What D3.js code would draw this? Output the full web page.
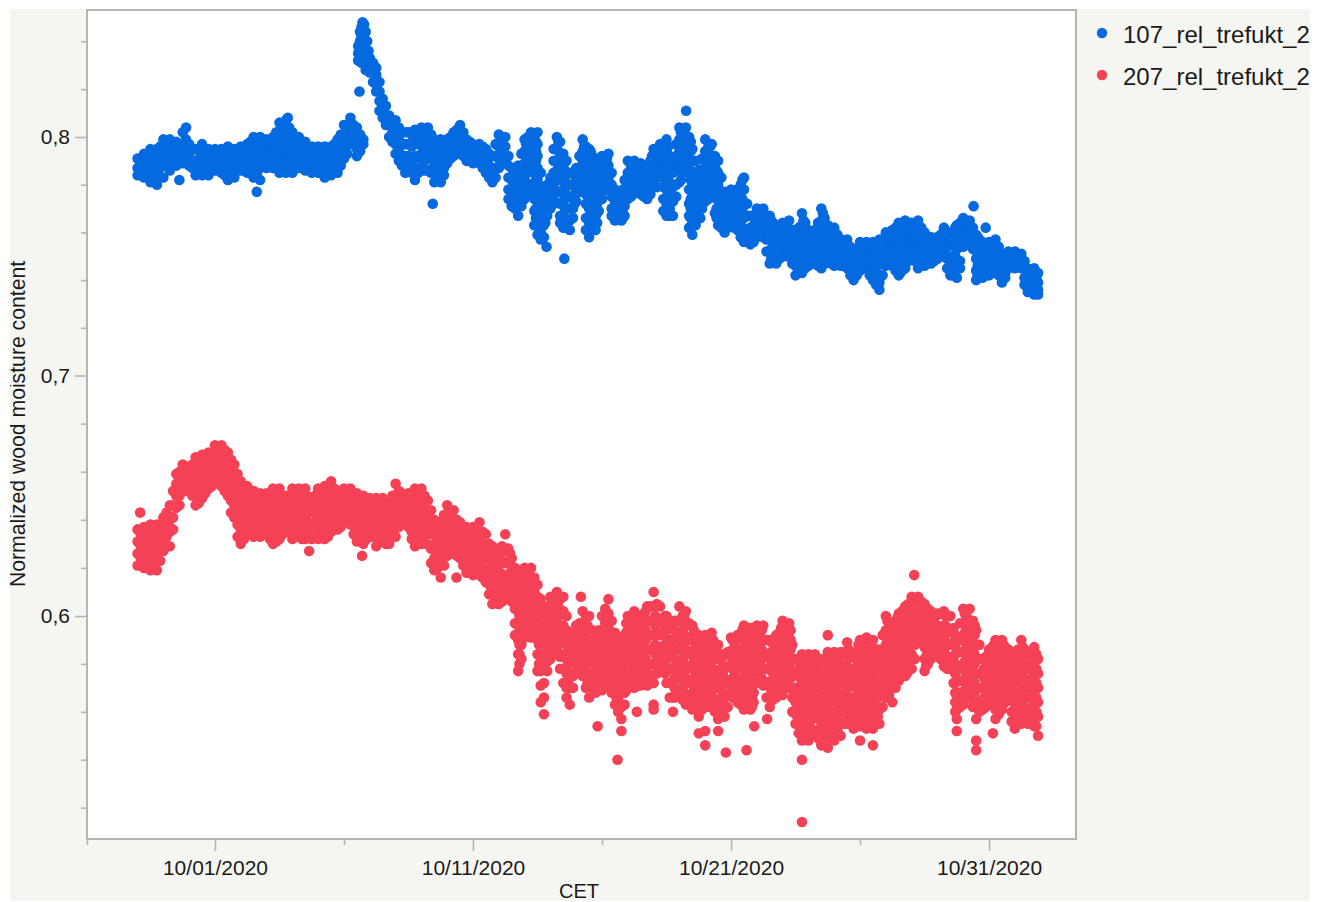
<!DOCTYPE html>
<html>
<head>
<meta charset="utf-8">
<script src="https://cdn.jsdelivr.net/npm/d3@7"></script>
<style>
html,body{margin:0;padding:0;background:#fff;}
svg{display:block;}
text{font-family:"Liberation Sans",Arial,sans-serif;fill:#1a1a1a;}
</style>
</head>
<body>
<div id="chart"></div>
<script>
// Each row: day offset from 10/01/2020, then moisture readings in thousandths.
const series107 = [
[-3,791,787,784],[-2.75,793,788,783],[-2.5,795,790,785,781],[-2.25,795,791,786,780],[-2,799,794,789,783],
[-1.75,799,795,790,786],[-1.5,798,793,788],[-1.38,782],[-1.25,802,797,793,789],[-1.12,804],[-1,797,792,788],
[-.75,795,790,784],[-.5,797,792,788,784],[-.25,795,790,784],[0,795,790,786],[.25,795,790,785],[.5,796,791,787,782],
[.75,795,790,786,783],[1,796,791,786],[1.25,797,792,788,785],[1.5,800,795,790,786,783],[1.62,777],[1.75,800,795,791,787,782],
[2,799,794,790,787],[2.25,800,795,791,787],[2.5,806,801,796,791,785],[2.75,807,802,797,792,788,785],[2.82,808],[3,802,797,792,788,785],
[3.25,800,795,791,787],[3.5,798,794,790,786],[3.75,796,791,785],[4,796,791,785],[4.25,796,791,787,783],[4.5,796,791,787,784],
[4.75,799,794,790,785],[5,805,800,796,791],[5.25,808,803,797],[5.5,804,799,795,792],[5.6,819],[5.75,799,797],
[5.55,838,835,832],[5.68,846,842,838,834,831],[5.78,847,843,839,835,832],[5.9,840,836,832,828],[6,833,830,827],[6.25,829,826,822,819],[6.5,816,812,808],
[6.75,809,805,800],[7,807,802,797,793],[7.25,802,797,792,788],[7.5,802,797,792,786],[7.75,803,798,792,787,782],
[8,804,799,793,787],[8.25,804,799,793,786],[8.44,772],[8.5,799,794,788,781],[8.75,799,794,788,781],[9,799,794,789],[9.25,802,797,792],[9.5,805,800,794],
[9.75,799,795,790],[10,797,793,789],[10.25,797,792,789],[10.5,795,790,785],[10.75,792,787,781],[11,801,796,791,787],[11.25,800,796,792],
[11.5,787,782,777,771],[11.75,788,783,777,772,767],[12,799,794,789,784,779,774],[12.25,802,797,792,787],[12.5,802,797,792,787,782,776,770,765,759],
[12.75,778,773,768,763,758],[12.85,754],[13,783,778,774,770],[13.25,800,795,790,786,783],[13.5,793,788,783,778,773,767,762],[13.54,749],[13.75,785,780,775,770,765,761],
[14,787,782,777,773],[14.25,799,794,789,784,779],[14.5,795,790,785,780,775,770,764,758],[14.75,788,783,778,773,767,761],[15,792,787,782,777,774],
[15.25,793,788,783,780],[15.5,778,773,769,765],[15.75,775,770,765],[16,790,785,780,774],[16.25,790,785,780],[16.5,789,784,780,776],
[16.75,787,782,778,774],[17,795,790,785,779],[17.25,797,792,786],[17.5,799,794,789,784,778,772,767],[17.75,790,785,779,773,767],
[18,804,799,794,788,781],[18.25,804,799,793,787],[18.26,811],[18.5,795,790,785,780,775,770,765,759],[18.75,786,781,776,771,766],[19,799,794,789,784,778,773],
[19.25,797,792,786,780],[19.5,790,785,780,775,769,763],[19.75,777,772,766,760],[20,778,773,768,763],[20.25,778,772,767,761],
[20.5,783,778,772,766,761,756],[20.75,767,762,758,755],[21,770,765,761,758],[21.25,770,765,761,758],[21.5,767,762,757,752,747],[21.75,763,758,753,747],
[22,764,759,755,752],[22.25,765,760,755,750],[22.5,759,754,749,746,742],[22.75,768,763,758,753,748,743],[23,761,756,751,746],[23.25,761,756,751,747],
[23.5,770,765,760,755,750,745],[23.75,763,758,753,749],[24,762,757,752,746],[24.25,757,752,746],[24.5,757,752,748,745],[24.75,752,747,744,740],
[25,756,751,747,744],[25.25,756,751,748,745],[25.5,756,751,746,743,740],[25.75,757,752,747,742,739,736],[26,760,755,750,746],[26.25,761,756,751,746],
[26.5,764,759,754,749,745,742],[26.75,765,760,755,750,745],[27,764,759,754,750],[27.25,765,760,755,750,745],[27.5,760,755,750,746],[27.75,758,753,747],
[28,758,753,749],[28.25,762,757,753,750],[28.5,760,755,750,746,742],[28.75,763,758,753,748,741],[29,766,761,757,754],[29.25,765,760,756],[29.4,771],
[29.5,759,754,749,744,740],[29.75,756,751,746,741],[29.87,762],[30,756,751,746,742],[30.25,757,752,747,744],[30.5,751,747,743,739],[30.75,752,748,745],
[31,752,748,745],[31.25,751,747,745],[31.5,745,741,738,735],[31.75,745,741,737,734],[31.9,743,739,736,734],
[-2.875,790,786],[-2.625,792,788,785],[-2.375,793,788,783],[-2.125,796,792,787,783],[-1.875,797,792,788],[-1.625,796,791,788],[-1.375,795,791],[-1.125,799,795,791],
[-.875,795,790,787],[-.625,794,789,786],[-.375,794,789,786],[-.125,793,788],[.125,793,788],[.375,793,788,784],[.625,793,788,784],[.875,793,788],[1.125,794,789,786],
[1.375,798,793,788,785],[1.625,797,793,789,785],[1.875,797,792,788],[2.125,797,792,789],[2.375,802,797,793,788],[2.625,804,799,794,789,786],[2.875,804,799,795,790,787],
[3.125,800,796,791,787],[3.375,797,793,789],[3.625,795,791,787],[3.875,794,789,786],[4.125,794,789,785],[4.375,794,789,785],[4.625,797,793,789,786],[4.875,801,797,793,788],
[5.125,805,801,797,793],[5.375,805,801,797],[5.625,801,797,794],[5.62,844,840,836,832],[5.72,848,844,840,836,832],[5.84,844,840,836,832,828],[5.95,836,832,828],
[6.125,831,827,823],[6.375,823,819,815,811],[6.625,813,809,805],[6.875,806,802,798],[7.125,804,799,794,790],[7.375,802,797,792,788,785],[7.625,801,796,790,785],[7.875,802,797,791,785],
[8.125,802,796,790,786],[8.375,801,796,791,785],[8.625,797,791,785,782],[8.875,797,792,787,784],[9.125,800,795,791],[9.375,803,798,793],[9.625,802,797,792],[9.875,798,794,790],
[10.125,795,791],[10.375,796,792,787],[10.625,793,788,783],[10.875,797,792,787,783],[11.125,798,794,790],[11.375,792,788,783,778,774],[11.625,786,780,775,770],[11.875,793,787,781,776,771],
[12.125,800,795,790,785,780,776],[12.375,800,795,790,785,780,774,769,763],[12.625,785,779,774,769,764,760,757],[12.875,780,775,771,767],[13.125,795,790,785,780,775,772],
[13.375,798,792,787,782,777,772,767,764],[13.625,790,785,780,775,770,765,762],[13.875,785,780,775,770,766],[14.125,792,787,782,777],[14.375,796,791,786,781,776,772,766,761],
[14.625,792,787,782,777,772,767,762],[14.875,789,784,779,774,769],[15.125,791,786,781,778],[15.375,785,780,775,770,767],[15.625,775,770,767],[15.875,782,777,771,767],
[16.125,788,783,778,775],[16.375,787,783,778],[16.625,786,782,778,775],[16.875,790,785,781,776],[17.125,794,789,783,779],[17.375,796,790,785,779,774,769],[17.625,792,787,781,775,770,767],
[17.875,797,792,786,780,775],[18.125,802,796,790,785],[18.375,800,795,790,785,778,772,767,762],[18.625,790,785,779,774,769,763],[18.875,791,786,781,775,770],[19.125,796,790,784,778,774],
[19.375,792,787,781,775,768],[19.625,783,777,771,765,762],[19.875,775,770,765,762],[20.125,775,770,765,762],[20.375,780,775,769,763,758],[20.625,772,767,761,757],[20.875,767,763,759,756],
[21.125,768,763,760],[21.375,767,762,757,752],[21.625,764,759,754,749],[21.875,762,757,753,749],[22.125,763,758,753,750],[22.375,761,756,751,747],[22.625,762,757,752,747,744],
[22.875,764,759,754,749,745],[23.125,759,754,749,747],[23.375,764,759,754,749,746],[23.625,766,760,755,750,747],[23.875,760,755,750,747],[24.125,759,754,749,747],[24.375,755,750,746],
[24.625,754,749,745,742],[24.875,753,749,745,742],[25.125,754,750,746],[25.375,754,749,745,742],[25.625,755,750,745,741,738],[25.875,757,752,747,742],[26.125,758,753,748],
[26.375,762,757,752,747,744],[26.625,763,758,753,748,744],[26.875,762,757,752,748],[27.125,762,757,752,748],[27.375,762,757,752,748],[27.625,757,752,748],[27.875,756,751,748],
[28.125,759,755,751],[28.375,759,754,749,745],[28.625,760,755,750,745,742],[28.875,764,759,754,748,745],[29.125,764,759,755],[29.375,762,757,753],[29.625,757,752,747,742],
[29.875,754,749,744,742],[30.125,755,750,745,743],[30.375,754,750,746,742],[30.625,750,746,743,741],[30.875,750,747],[31.125,750,747,746],[31.375,748,745,741,738],[31.625,743,739,736],[31.83,741,737,735],
[11.6,782,778,774],[12.06,797,793,789,785,781,777],[12.44,798,794,790,786,782,778,774,770,766],[12.8,776,772,768,764],[13.31,798,794,790,786],[13.56,790,786,782,778,774,770,766],[13.94,784,780,776,772],
[14.31,796,792,788,784,780],[14.56,794,790,786,782,778,774,770,766,762],[14.81,788,784,780,776,772,768,764],[15.19,791,787,783],[15.81,778,774,770,766],[16.19,788,784,780,776],[16.56,787,783,779],
[16.94,792,788,784,780],[17.31,795,791,787,783],[17.56,796,792,788,784,780,776,772,768],[18.06,802,798,794,790,786,782],[18.44,798,794,790,786,782,778,774,770,766,762],[18.81,786,782,778,774,770,766],
[19.19,796,792,788,784,780],[19.44,790,786,782,778,774,770,766],[19.81,776,772,768,764],[20.19,776,772,768,764],[20.44,782,778,774,770,766,762,758],[21.56,765,761,757,753,749],[22.56,758,754,750,746],
[22.81,765,761,757,753,749,745],[23.56,768,764,760,756,752,748],[25.56,755,751,747,743],[26.56,763,759,755,751,747,743],[28.69,762,758,754,750,746],[29.56,758,754,750,746,742]
];
const series207 = [
[-3,636,631,626,621],[-2.9,643],[-2.75,637,632,628,624,620],[-2.5,638,633,628,623,619],[-2.25,638,634,629,624,619],[-2,641,636,631,627],[-1.75,646,640,635,629],
[-1.5,659,655,650,645],[-1.25,663,658,653],[-1,662,658,653],[-.75,666,661,656,651,646],[-.5,667,662,657,653,649],[-.25,668,663,658,653],[0,671,666,661,656],
[.25,671,666,660,654],[.5,668,662,656,650],[.75,663,658,652,646,641],[1,656,651,646,641,636,630],[1.25,654,649,644,639,634],[1.5,652,647,642,638,633],
[1.75,651,646,641,637,633],[2,651,646,641,635],[2.25,653,648,643,638,634,630],[2.5,653,648,643,638,632],[2.75,650,645,640,635],[3,653,648,643,637,632],
[3.25,653,648,642,638,633],[3.5,653,648,642,637,632],[3.65,627],[3.75,649,644,638,632],[4,653,648,642,637,632],[4.25,654,649,644,638,632],[4.5,656,651,646,641,635],
[4.75,652,647,642,636],[5,653,648,644,639],[5.25,653,648,643,638],[5.5,651,646,641,636,631],[5.7,625],[5.75,650,645,640,635,630],[6,649,645,640,636],
[6.25,649,644,639,634,629],[6.5,649,644,638,632],[6.75,647,642,636,630],[7,655,650,645,639,633],[7.25,651,646,642,639],[7.5,651,646,641,637],[7.75,653,648,642,636,629],
[8,653,648,642,636,630],[8.18,630],[8.25,648,643,637],[8.5,640,635,630,624,619],[8.75,639,634,628,622,616],[9,646,641,636,631,625],[9.25,644,638,632,626],[9.36,616],
[9.5,639,634,629,624],[9.75,637,632,627,622,618],[10,637,632,627,622,617],[10.25,639,634,628,622,617],[10.5,634,629,624,619,614],[10.75,629,624,618,612,605],
[11,628,622,616,610,605],[11.25,634,628,622,616,609],[11.5,624,618,612,606],[11.75,619,614,608,602,596,590,584,577],[12,620,615,609,603,597,591],[12.25,620,614,608,602,596,591],
[12.5,613,608,602,596,590,584,577],[12.75,602,596,590,584,578,572,566,559],[13,608,603,597,591,585,582],[13.25,610,604,598,592,585],[13.5,608,602,596,590,584,578,572],
[13.75,593,588,582,576,570,563],[14,596,590,584,577],[14.18,608],[14.25,602,596,590,584,578,575],[14.5,600,594,588,582,576,571,566],[14.75,591,585,579,573,568],
[14.83,554],[15,600,594,588,582,576,569],[15.25,607,601,595,589,583,577,571],[15.5,593,587,581,575,569,563],[15.6,540],[15.75,586,580,574,568,562,557,552],[16,600,594,588,582,576,570],
[16.25,602,596,590,584,578,570],[16.35,560],[16.5,600,594,588,582,576,571],[16.75,604,598,592,586,580,576,571],[17,610,604,598,592,586,580,572,563,561],[17.25,604,598,592,587,582],
[17.5,600,594,588,582,577,572],[17.75,596,590,584,578,572,566,560],[18,604,598,592,586,580,574,568],[18.25,602,596,590,584,578,572,563],[18.5,596,590,584,578,572,566,561],
[18.75,592,586,580,574,568,563,558,551],[19,592,586,580,574,568,562,552,546],[19.25,593,587,581,575,569,564],[19.5,588,582,576,570,564,557,552],[19.75,584,578,572,566,558],[19.8,543],
[20,591,585,579,573,568],[20.25,592,586,580,574,568,564],[20.5,596,590,584,578,572,566,561],[20.6,544],[20.75,595,589,583,577,571,566,561],[20.9,554],[21,596,590,584,578],
[21.25,596,590,584,578,571],[21.4,557],[21.5,590,584,578,572,566,562],[21.75,592,586,580,574,569,566],[22,598,592,586,580,574,567],[22.25,597,591,585,579,574,570],
[22.5,582,576,570,564,559,555],[22.75,584,578,572,566,560,554,548,540,514],[23,584,578,572,566,560,555,548],[23.25,584,578,572,566,560,552],[23.5,582,576,570,564,558,552,546],
[23.75,592,585,579,573,567,561,555,550,545],[24,585,579,573,567,560,554,548],[24.25,585,579,573,567,561,555,550],[24.5,589,583,577,571,565,559,555],[24.75,583,577,571,565,559,553],
[25,590,584,578,572,566,560,554,548],[25.25,591,585,579,573,567,561,557,553],[25.5,590,584,578,572,566,560,553,546],[25.75,585,579,573,567,561,555],[26,600,594,588,582,576,570,566],
[26.25,595,589,583,577,571,564],[26.5,601,595,589,583,577,573],[26.75,604,598,592,586,580,575],[27,608,602,596,590,584,578],[27.1,617],[27.25,608,602,596,590],
[27.5,605,599,593,587,582,577],[27.75,602,596,590,585,582],[28,601,596,592,588],[28.25,602,596,590,585,579],[28.5,600,594,588,582,578],[28.75,591,585,579,573,567,561,557,552],
[29,603,597,591,585,579,573,567,563],[29.25,603,597,591,585,579,573,566],[29.5,594,588,582,576,570,564,557,548,544],[29.75,582,576,570,565,561],[30,586,580,574,568,563],[30.15,551],
[30.25,590,584,578,572,566,561,557],[30.5,590,584,578,572,566,561],[30.75,586,580,574,570,566],[31,584,578,572,566,560,553],[31.25,590,584,578,572,566,560,555],
[31.5,584,578,572,566,560,555],[31.75,587,581,575,569,563,558,554],[31.9,582,576,570,564,558,550],
[-2.875,634,629,624,621],[-2.625,635,630,626,621],[-2.375,636,631,626,621],[-2.125,636,632,628,623],[-1.875,643,638,633,629],[-1.625,652,646,641,636],[-1.375,660,655,650,646],[-1.125,660,656,652],
[-.875,663,658,654,650],[-.625,664,659,654,650,647],[-.375,665,660,655,651],[-.125,668,663,658,654],[.125,669,664,658,655],[.375,669,663,657,652],[.625,665,660,654,648,643],[.875,659,654,649,643,638,633],
[1.125,652,647,642,637,632],[1.375,651,646,641,636],[1.625,649,644,640,635],[1.875,648,643,639,634],[2.125,650,645,640,636,632],[2.375,650,645,640,635,631],[2.625,648,643,637,634],[2.875,650,645,640,635],
[3.125,650,645,640,635],[3.375,650,645,640,635,632],[3.625,649,644,639,634],[3.875,650,645,639,634],[4.125,651,646,640,635],[4.375,652,647,642,636,633],[4.625,653,648,643,638],[4.875,650,645,641,637],
[5.125,650,645,641],[5.375,649,644,639,634],[5.625,648,643,638,633],[5.875,647,642,637,632],[6.125,647,642,637,633],[6.375,646,641,636,631],[6.625,646,641,635,630],[6.875,650,644,639,633],
[7.125,652,647,642,637],[7.375,649,644,640],[7.625,650,645,640,635,632],[7.875,651,645,639,633],[8.125,650,645,639,633],[8.375,644,639,634,628,622],[8.625,637,632,626,620],[8.875,642,637,632,626,621],
[9.125,643,638,633,628],[9.375,640,635,630,625],[9.625,636,631,626,621],[9.875,634,629,624,620],[10.125,636,631,625,620],[10.375,635,630,625,620,616],[10.625,630,625,620,614,609],[10.875,627,621,615,609,606],
[11.125,629,623,617,612,606],[11.375,628,622,616,610,607],[11.625,620,615,609,603,597,592],[11.875,618,612,606,600,594,588,582],[12.125,618,612,606,600,594,592],[12.375,616,610,604,598,592],
[12.625,607,601,595,589,583,577,571,564],[12.875,604,599,593,587,581,577],[13.125,607,601,595,589,585],[13.375,607,601,595,589,583,578],[13.625,600,594,588,582,576,570,566],[13.875,593,587,581,575,570],
[14.125,597,593,587,581,578],[14.375,599,593,587,581,575,570],[14.625,594,588,582,576,570],[14.875,594,588,582,576,571],[15.125,603,597,591,585,579,573],[15.375,598,592,586,580,574,568],
[15.625,589,583,577,571,565,560],[15.875,592,586,580,574,568,563],[16.125,599,593,587,581,575,571],[16.375,598,592,586,580,574,571],[16.625,601,595,589,583,577,573],[16.875,604,598,592,586,580,574],
[17.125,605,599,593,587,581,576],[17.375,599,593,587,581,578],[17.625,596,590,584,578,572,566],[17.875,598,592,586,580,574,568],[18.125,600,594,588,582,576,570,565],[18.375,597,591,585,579,573,567,563],
[18.625,592,587,581,575,569,563],[18.875,590,584,578,572,566,561],[19.125,590,584,578,572,566,562],[19.375,588,582,576,570,564,560],[19.625,584,578,572,566,560],[19.875,585,579,573,567,562],
[20.125,589,583,577,571,566],[20.375,591,585,579,573,567,563],[20.625,593,587,581,575,569,563],[20.875,592,586,580,574,568,564],[21.125,593,587,581,575,572],[21.375,590,584,578,572,566],
[21.625,589,583,577,571,565],[21.875,593,587,581,575,569],[22.125,595,589,583,577,571],[22.375,588,582,576,570,566,560],[22.625,581,575,569,563,557,551],[22.875,581,575,569,563,557,551],
[23.125,581,575,569,563,557,552],[23.375,581,575,569,563,557,549],[23.625,581,575,569,563,557,551,547],[23.875,582,576,570,564,558,552],[24.125,582,576,570,564,558,552],[24.375,585,579,573,567,561,555],
[24.625,584,578,572,566,560,555],[24.875,585,579,573,567,561,556],[25.125,588,582,576,570,564,558],[25.375,588,582,576,570,564,557],[25.625,586,580,574,568,562,556],[25.875,592,586,580,574,568,562],
[26.125,597,591,585,579,573,567],[26.375,598,592,586,580,574,570],[26.625,602,596,590,584,578,575],[26.875,605,599,593,587,581,577],[27.125,606,600,594,588,582],[27.375,606,600,594,590],
[27.625,603,597,591,585,580],[27.875,600,594,589,585],[28.125,601,595,590,586,582],[28.375,600,594,588,582,578],[28.625,595,589,583,577,572],[28.875,597,591,585,579,573,568,562],
[29.125,600,594,588,582,576,570,566],[29.375,598,592,586,580,574,568,562],[29.625,588,582,576,570,564,560],[29.875,583,577,571,566,562],[30.125,587,581,575,569,564],[30.375,587,581,575,569,563,559],
[30.625,587,581,575,569,564],[30.875,584,578,572,566,560,556],[31.125,586,580,574,568,562,557],[31.375,586,580,574,568,562,557],[31.625,585,579,573,567,561,556],[31.83,584,578,572,566,560,554],
[2.06,648,644,640,636],[2.44,650,646,642,638,634],[2.81,648,644,640,636],[3.19,650,646,642,638,634],[3.56,650,646,642,638,634],[3.94,650,646,642,638,634],[4.31,650,646,642,638,634],[4.69,650,646,642,638],
[5.06,650,646,642],[5.44,648,644,640,636],[5.81,646,642,638,634],[6.19,646,642,638,634],[6.56,646,642,638,634],[6.94,650,646,642,638,634],[7.31,648,644,640],[7.69,650,646,642,638,634],[8.06,650,646,642,638,634],
[8.8,636,632,628,624],[9.19,640,636,632,628],[9.56,636,632,628,624],[9.94,634,630,626,622],[10.31,634,630,626,622],[10.69,628,624,620,616,612],[11.06,626,622,618,614,610],[11.44,626,622,618,614,610],
[11.8,616,612,608,604,600,596,592,588,584,580],[12.19,616,612,608,604,600,596],[12.56,604,600,596,592,588,584,580],[12.94,602,598,594,590,586],[13.31,604,600,596,592,588],[13.69,592,588,584,580,576,572],
[14.06,592,588,584,580],[14.44,596,592,588,584,580,576,572],[14.81,590,586,582,578,574,570],[15.19,600,596,592,588,584,580,576,572],[15.56,590,586,582,578,574,570,566],[15.94,597,593,589,585,581,577,573,569],
[16.31,600,596,592,588,584,580,576,572],[16.69,602,598,594,590,586,582,578,574],[17.06,604,600,596,592,588,584,580,576],[17.44,600,596,592,588,584,580,576],[17.81,598,594,590,586,582,578,574,570,566],
[18.19,600,596,592,588,584,580,576,572,568],[18.56,594,590,586,582,578,574,570,566,562],[18.94,590,586,582,578,574,570,566,562],[19.31,590,586,582,578,574,570,566,562],[19.69,583,579,575,571,567,563],
[20.06,590,586,582,578,574,570,566],[20.44,594,590,586,582,578,574,570,566,563],[20.81,594,590,586,582,578,574,570,566,562],[21.19,594,590,586,582,578,574],[21.56,589,585,581,577,573,569,565],
[21.94,595,591,587,583,579,575,571,568],[22.31,594,590,586,582,578,574,570],[22.69,582,578,574,570,566,562,558,554],[23.06,582,578,574,570,566,562,558,554,550],[23.44,581,577,573,569,565,561,557,553],
[23.81,584,580,576,572,568,564,560,556,552],[24.19,584,580,576,572,568,564,560,556],[24.56,586,582,578,574,570,566,562,558],[24.94,588,584,580,576,572,568,564,560,556],[25.31,590,586,582,578,574,570,566,562,558],
[25.69,586,582,578,574,570,566,562,558],[26.06,598,594,590,586,582,578,574,570,566],[26.44,599,595,591,587,583,579,575],[26.81,604,600,596,592,588,584,580,576],[27.19,606,602,598,594,590],
[27.56,603,599,595,591,587,583,579],[27.94,600,596,592,588],[28.31,600,596,592,588,584,580],[28.69,592,588,584,580,576,572,568,564,560],[29.06,601,597,593,589,585,581,577,573,569,565],
[29.44,596,592,588,584,580,576,572,568,564],[29.81,582,578,574,570,566,563],[30.19,588,584,580,576,572,568,564],[30.56,588,584,580,576,572,568,564],[30.94,584,580,576,572,568,564,560,556],
[31.31,587,583,579,575,571,567,563,559],[31.69,585,581,577,573,569,565,561,557]
];

const seriesNames = ["107_rel_trefukt_2","207_rel_trefukt_2"];
const seriesColors = ["#0569e0","#f44155"];
const xMajorTickDays = [0,10,20,30];
const xMinorTickDays = [-4.96,5,15,25];
const yMajorTicks = [0.6,0.7,0.8];
const yMinorTicks = [0.52,0.54,0.56,0.58,0.62,0.64,0.66,0.68,0.72,0.74,0.76,0.78,0.82,0.84];
const xAxisTitle = "CET";
const yAxisTitle = "Normalized wood moisture content";

const W = 1323, H = 902;
const frame = {left:87, right:1076, top:10, bottom:839};
const axisColor = "#b4b4b4";
const dayMs = 86400000, origin = Date.UTC(2020,9,1);
const toDate = d => new Date(origin + d*dayMs);

const x = d3.scaleUtc().domain([toDate(-4.96), toDate(33.37)]).range([frame.left, frame.right]);
const y = d3.scaleLinear().domain([0.5069,0.6,0.7,0.8,0.8531]).range([frame.bottom,616,375.5,137,frame.top]);

const svg = d3.select("#chart").append("svg").attr("width",W).attr("height",H);
svg.append("defs").append("clipPath").attr("id","panel").append("rect")
  .attr("x",10).attr("y",9).attr("width",1300).attr("height",893);

const root = svg.append("g").attr("clip-path","url(#panel)");
root.append("rect").attr("x",10).attr("y",9).attr("width",1300).attr("height",892).attr("fill","#f5f6f1");
root.append("rect").attr("x",frame.left).attr("y",frame.top)
  .attr("width",frame.right-frame.left).attr("height",frame.bottom-frame.top)
  .attr("fill","#fff").attr("stroke",axisColor).attr("stroke-width",2);

function styleAxis(g){
  g.select(".domain").remove();
  g.selectAll("line").attr("stroke",axisColor).attr("stroke-width",1.6);
  g.selectAll("text").attr("font-size",21).attr("fill","#1a1a1a")
    .attr("font-family",'"Liberation Sans",Arial,sans-serif');
}
const base = `translate(0,${frame.bottom})`;
root.append("g").attr("transform",base)
  .call(d3.axisBottom(x).tickValues(xMajorTickDays.map(toDate)).tickSize(12).tickPadding(9).tickFormat(d3.utcFormat("%m/%d/%Y")))
  .call(styleAxis);
root.append("g").attr("transform",base)
  .call(d3.axisBottom(x).tickValues(xMinorTickDays.map(toDate)).tickSize(6).tickFormat(""))
  .call(styleAxis);
const left = `translate(${frame.left},0)`;
root.append("g").attr("transform",left)
  .call(d3.axisLeft(y).tickValues(yMajorTicks).tickSize(12).tickPadding(5).tickFormat(d=>d3.format(".1f")(d).replace(".",",")))
  .call(styleAxis);
root.append("g").attr("transform",left)
  .call(d3.axisLeft(y).tickValues(yMinorTicks).tickSize(6).tickFormat(""))
  .call(styleAxis);

root.append("text").attr("x",579).attr("y",897.5).attr("text-anchor","middle").attr("font-size",20).text(xAxisTitle);
root.append("text").attr("transform","translate(24.5,424) rotate(-90)").attr("text-anchor","middle").attr("font-size",21.2).text(yAxisTitle);

const flatten = rows => rows.flatMap(r => r.slice(1).map(v => ({day:r[0], value:v/1000})));
[series107, series207].forEach((rows,i)=>{
  root.append("g").selectAll("circle").data(flatten(rows)).join("circle")
    .attr("cx",d=>x(toDate(d.day))).attr("cy",d=>y(d.value)).attr("r",5.3).attr("fill",seriesColors[i]);
});

const legend = root.append("g").selectAll("g").data(seriesNames).join("g");
legend.append("circle").attr("cx",1102).attr("cy",(d,i)=>33+i*42).attr("r",5.2).attr("fill",(d,i)=>seriesColors[i]);
legend.append("text").attr("x",1123).attr("y",(d,i)=>43+i*42).attr("font-size",24).text(d=>d);
</script>
</body>
</html>
